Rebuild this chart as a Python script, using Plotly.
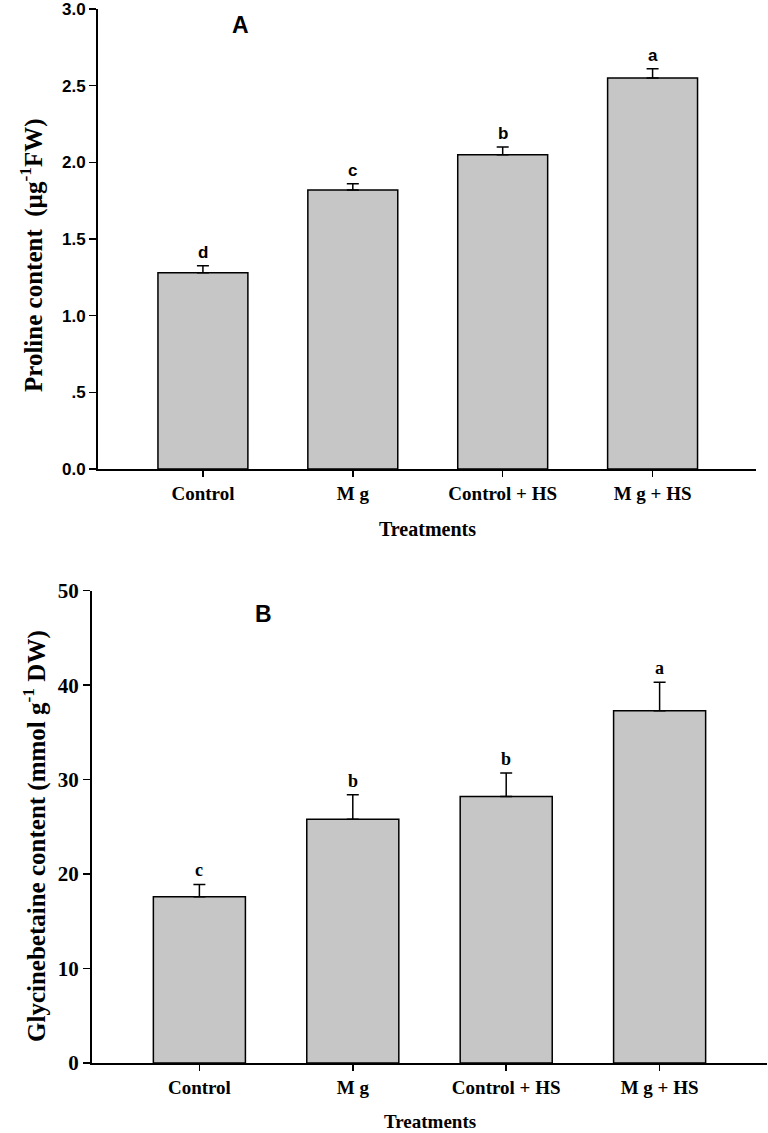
import plotly.graph_objects as go

categories = ["Control", "M g", "Control + HS", "M g + HS"]

proline = [1.28, 1.82, 2.05, 2.55]
proline_err = [0.045, 0.04, 0.05, 0.06]
proline_letters = ["d", "c", "b", "a"]

glycine = [17.6, 25.8, 28.2, 37.3]
glycine_err = [1.3, 2.6, 2.5, 3.0]
glycine_letters = ["c", "b", "b", "a"]

W, H = 768, 1133
BAR = "#c6c6c6"
SERIF = "Liberation Serif"
SANS = "Liberation Sans"

fig = go.Figure()

fig.add_trace(go.Bar(
    x=list(range(4)), y=proline, width=0.6,
    marker=dict(color=BAR, line=dict(color="black", width=1.5)),
    error_y=dict(type="data", array=proline_err, arrayminus=[0]*4, symmetric=False,
                 color="black", thickness=1.5, width=6),
    xaxis="x", yaxis="y", showlegend=False, hoverinfo="skip"))

fig.add_trace(go.Bar(
    x=list(range(4)), y=glycine, width=0.6,
    marker=dict(color=BAR, line=dict(color="black", width=1.5)),
    error_y=dict(type="data", array=glycine_err, arrayminus=[0]*4, symmetric=False,
                 color="black", thickness=1.5, width=6),
    xaxis="x2", yaxis="y2", showlegend=False, hoverinfo="skip"))

annotations = []
for i, (v, e, t) in enumerate(zip(proline, proline_err, proline_letters)):
    annotations.append(dict(x=i, y=v + e, xref="x", yref="y", text=t, showarrow=False,
                            xanchor="center", yanchor="bottom", yshift=2,
                            font=dict(family=SANS, size=17, color="black", weight="bold")))
for i, (v, e, t) in enumerate(zip(glycine, glycine_err, glycine_letters)):
    annotations.append(dict(x=i, y=v + e, xref="x2", yref="y2", text=t, showarrow=False,
                            xanchor="center", yanchor="bottom", yshift=2,
                            font=dict(family=SERIF, size=18, color="black", weight="bold")))


def paper_note(x, y, text, font, angle=0):
    return dict(x=x / W, y=1 - y / H, xref="paper", yref="paper", text=text, showarrow=False,
                xanchor="center", yanchor="middle", textangle=angle, font=font)


annotations.append(paper_note(240, 25, "A", dict(family=SANS, size=23, color="black", weight="bold")))
annotations.append(paper_note(263, 614, "B", dict(family=SANS, size=23, color="black", weight="bold")))
annotations.append(paper_note(31, 255, "Proline content  (µg<sup>-1</sup>FW)",
                              dict(family=SERIF, size=25, color="black", weight="bold"), -90))
annotations.append(paper_note(34, 836, "Glycinebetaine content (mmol g<sup>-1</sup> DW)",
                              dict(family=SERIF, size=25, color="black", weight="bold"), -90))
annotations.append(paper_note(427, 529, "Treatments", dict(family=SERIF, size=20, color="black", weight="bold")))
annotations.append(paper_note(430, 1121, "Treatments", dict(family=SERIF, size=19, color="black", weight="bold")))

xcommon = dict(showline=True, linecolor="black", linewidth=2, ticks="outside", ticklen=6,
               tickwidth=1.5, tickcolor="black", showgrid=False, zeroline=False, automargin=False,
               tickvals=list(range(4)), ticktext=categories,
               tickfont=dict(family=SERIF, size=19, color="black", weight="bold"))
ycommon = dict(showline=True, linecolor="black", linewidth=2, ticks="outside", ticklen=7,
               tickwidth=1.5, tickcolor="black", showgrid=False, zeroline=False, automargin=False,
               ticklabeloverflow="allow")

fig.update_layout(
    width=W, height=H, margin=dict(l=0, r=0, t=0, b=0, autoexpand=False),
    paper_bgcolor="white", plot_bgcolor="white", bargap=0, hovermode=False,
    xaxis=dict(domain=[98/W, 756/W], range=[-0.70, 3.69], anchor="y", **xcommon),
    yaxis=dict(domain=[1-469/H, 1-9/H], range=[0, 3.0], anchor="x",
               tickvals=[0, 0.5, 1.0, 1.5, 2.0, 2.5, 3.0],
               ticktext=["0.0", ".5", "1.0", "1.5", "2.0", "2.5", "3.0"],
               tickfont=dict(family=SANS, size=17, color="black", weight="bold"), **ycommon),
    xaxis2=dict(domain=[92/W, 767/W], range=[-0.70, 3.70], anchor="y2", **xcommon),
    yaxis2=dict(domain=[1-1063/H, 1-590.7/H], range=[0, 50], anchor="x2",
                tickvals=[0, 10, 20, 30, 40, 50],
                tickfont=dict(family=SERIF, size=21, color="black", weight="bold"), **ycommon),
    annotations=annotations,
)

fig.write_html("out.html", config={"displayModeBar": False, "staticPlot": True},
               post_script="document.body.style.margin='0';document.body.style.overflow='hidden';")
